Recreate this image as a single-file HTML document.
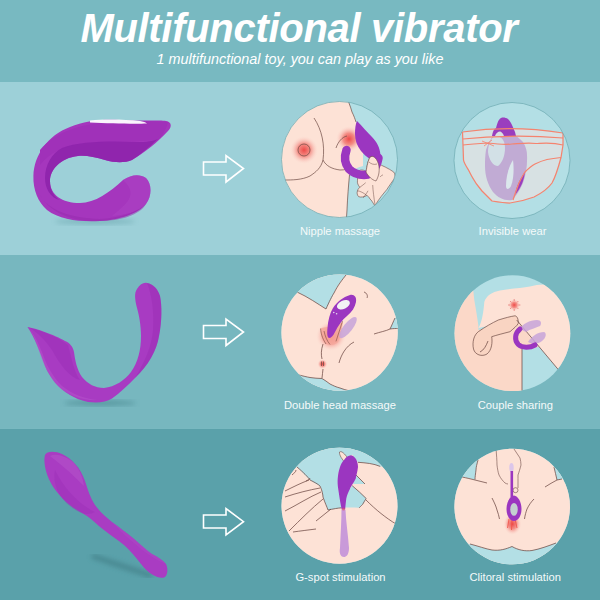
<!DOCTYPE html>
<html><head><meta charset="utf-8">
<style>
html,body{margin:0;padding:0;width:600px;height:600px;overflow:hidden;background:#78b8c0}
body{position:relative;font-family:"Liberation Sans",sans-serif}
.band{position:absolute;left:0;width:600px}
#h{top:0;height:82px;background:#78b9c1}
#b1{top:82px;height:173px;background:#9dd0d8}
#b2{top:255px;height:173px;background:#77b7bf}
#b3{top:428.5px;height:172px;background:#5aa1aa}
.t{position:absolute;left:0;width:600px;text-align:center;color:#fff;white-space:nowrap}
#title{top:5.5px;left:-1px;font:italic bold 40px "Liberation Sans",sans-serif;letter-spacing:-0.3px}
#sub{top:50.7px;font:italic 14.4px "Liberation Sans",sans-serif;}
.lbl{position:absolute;width:200px;text-align:center;color:#f4fafa;font-size:11.2px;white-space:nowrap}
svg{position:absolute;left:0;top:0}
</style></head><body>
<div class="band" id="h"></div>
<div class="band" id="b1"></div>
<div class="band" id="b2"></div>
<div class="band" id="b3"></div>
<div class="t" id="title">Multifunctional vibrator</div>
<div class="t" id="sub">1 multifunctional toy, you can play as you like</div>
<svg width="600" height="600" viewBox="0 0 600 600">
<defs>
  <clipPath id="c1"><circle cx="339.5" cy="159.5" r="58"/></clipPath>
  <clipPath id="c2"><circle cx="512" cy="160.5" r="58"/></clipPath>
  <clipPath id="c3"><circle cx="339.6" cy="332.6" r="58.2"/></clipPath>
  <clipPath id="c4"><circle cx="512.4" cy="333.2" r="57.9"/></clipPath>
  <clipPath id="c5"><circle cx="339.5" cy="505.7" r="58"/></clipPath>
  <clipPath id="c6"><circle cx="512.2" cy="506.5" r="57.8"/></clipPath>
  <radialGradient id="red"><stop offset="0" stop-color="#ee4a48"/><stop offset="0.45" stop-color="#f27f78" stop-opacity="0.85"/><stop offset="1" stop-color="#fbd8d0" stop-opacity="0"/></radialGradient>
  <filter id="blur2"><feGaussianBlur stdDeviation="2.5"/></filter>
  <filter id="blur1"><feGaussianBlur stdDeviation="0.6"/></filter>
</defs>
  <!-- arrows -->
  <g fill="none" stroke="#fff" stroke-width="1.6" stroke-linejoin="miter">
    <path d="M203.5 162H226V155.5L243.5 168.5L226 182V175H203.5Z"/>
    <path d="M203.5 325.5H226V319L243.5 332L226 345.5V338.5H203.5Z"/>
    <path d="M203.5 515H226V508.5L243.5 521.7L226 535V528H203.5Z"/>
  </g>

  <!-- ===== Product 1: C shape ===== -->
  <ellipse cx="95" cy="221.5" rx="40" ry="3" fill="#6aa5ad" opacity="0.6" filter="url(#blur2)"/>
  <path fill="#a536bd" d="M33.4,176 C34,155 48,135 70,127 C85,121 100,119 120,120 C140,121 160,120 166,121 C172,122 172,127 168,131 C158,142 145,152 132,160 C125,163 115,163 105,160 C95,157 85,155 78,156 C60,158 50,170 50,181 C50,195 62,203 80,203 C95,203 110,192 123,180 C132,174 140,174 146,178 C152,184 152,196 146,204 C138,214 118,220 100,221 C80,222 60,220 47,210 C38,202 33,190 33.4,176Z"/>
  <path fill="#a031b9" d="M40,150 C55,132 80,124 110,122 C135,121 160,121 168,122 C166,130 162,136 158,140 C140,142 110,141 85,143 C65,146 50,152 40,165Z"/>
  <path fill="#8c22aa" opacity="0.85" d="M62,148 C80,141 110,141 140,142 C150,142 155,140 158,139 C148,148 140,155 132,160 C125,163 115,163 105,160 C95,157 85,155 78,156 C60,158 50,170 50,181 C50,190 54,197 60,200 C50,198 45,188 45,178 C45,165 52,153 62,148Z"/>
  <path fill="#ffffff" opacity="0.95" d="M90,120.5 C105,119 125,119.5 140,121 C143,121.5 146,122.5 147,123.5 C135,124 110,123.5 90,122.5Z"/>
  <path fill="#b048c6" opacity="0.45" d="M123,180 C132,174 140,174 146,178 C152,184 152,196 146,204 C138,212 125,215 112,216 C125,205 140,195 123,180Z"/>
  <path fill="#962aae" opacity="0.5" d="M40,195 C48,210 70,218 100,219 C120,218 138,212 146,204 C140,215 120,221 100,221 C75,222 52,215 40,195Z"/>

  <!-- ===== Product 2: U shape ===== -->
  <ellipse cx="100" cy="403" rx="36" ry="3" fill="#4f8e96" opacity="0.7" filter="url(#blur2)"/>
  <path fill="#a83bc2" d="M27.5,327 C35,328 55,335 65,341 C70,343 73,347 74,352 C75,360 77,370 82,377 C88,384 95,388 104,388 C115,387 125,380 131,372 C138,362 141,350 141,336 C141,325 139,315 137,308 C135,300 134,293 137,289 C140,284 144,282 147,283 C153,284 158,289 160,296 C162,305 162,322 159,336 C157,350 148,366 135,378 C128,385 120,393 112,398.5 C106,402.6 97,403 88,402 C80,400 75,398 70,395 C58,388 50,378 45,366 C40,352 35,338 27.5,327Z"/>
  <path fill="#9a2cb5" opacity="0.45" d="M30,328 C45,332 60,338 68,345 C72,360 74,372 80,380 C70,378 60,365 52,350 C45,340 38,333 30,328Z"/>
  <path fill="#b95bd0" opacity="0.4" d="M29,328 C34,334 38,342 42,352 C46,364 52,376 62,386 C72,394 85,399 98,400 C84,401 70,396 60,388 C50,378 44,366 40,354 C36,342 33,334 29,328Z"/>
  <path fill="#9428b0" opacity="0.35" d="M147,283 C153,284 158,289 160,296 C162,305 162,322 159,336 C157,350 148,366 135,378 C145,362 152,345 153,330 C154,312 152,295 147,283Z"/>

  <!-- ===== Product 3: spoon ===== -->
  <path d="M92,556 C110,562 135,570 152,576" fill="none" stroke="#3f7c84" stroke-width="5" opacity="0.7" filter="url(#blur2)"/>
  <path fill="#a93cc2" d="M45,455 C47,451 55,451 62,454 C72,459 80,467 85,481 C88,490 90,497 95,505 C100,512 106,517 112,522 C120,528 127,533 133,538 C140,544 146,550 152,554 C158,557 163,560 166,564 C168,568 168,574 165,577 C161,579 157,577 153,575 C148,572 145,569 141,564 C136,558 131,551 124,545 C118,540 110,535 104,530 C96,524 90,517 82,513 C68,505 58,495 52,485 C46,475 43,462 45,455Z"/>
  <path fill="#9a2db6" opacity="0.4" d="M55,470 C65,490 80,505 95,512 C88,516 80,514 70,506 C60,498 52,485 55,470Z"/>
  <path fill="#b658cc" opacity="0.45" d="M50,456 C56,453 66,456 74,463 C80,470 83,478 84,486 C76,478 66,468 50,456Z"/>
  <path fill="#b04ec8" opacity="0.35" d="M112,522 C125,531 140,544 152,554 C158,557 163,560 166,564 C160,562 150,556 140,548 C130,540 120,531 112,522Z"/>

  <!-- ===== circles ===== -->
  <g fill="#b3dfe5">
    <circle cx="339.5" cy="159.5" r="58"/>
    <circle cx="512" cy="160.5" r="58"/>
    <circle cx="339.6" cy="332.6" r="58.2"/>
    <circle cx="512.4" cy="333.2" r="57.9"/>
    <circle cx="339.5" cy="505.7" r="58"/>
    <circle cx="512.2" cy="506.5" r="57.8"/>
  </g>

  <!-- Circle 1: nipple -->
  <g clip-path="url(#c1)">
    <path fill="#fde2d6" d="M270,95 L345,95 C348,100 350,105 352,112 C354,116 355,119 356,122 L358,135 L363,150 L363,166 C356,168 351,170 349.5,175 C348.5,185 347.5,198 347,210 L346,225 L270,225Z"/>
    <circle cx="304" cy="150" r="14" fill="url(#red)"/>
    <circle cx="349" cy="139" r="13" fill="url(#red)"/>
    <g fill="none" stroke="#6d4a44" stroke-width="0.7">
      <circle cx="304" cy="150" r="6"/>
      <path d="M314,118 C322,130 325,145 323,160 C321,168 316,172 310,176 C302,180 292,180 284,180"/>
      <path d="M323,160 C326,166 332,169 340,170 C345,170 348,169 350,168"/>
      <path d="M336,148 C338,142 342,137 347,136"/>
      <path d="M349.5,175 C348.5,185 347.5,198 347,210 L346,225"/>
      <path d="M345,95 C348,100 350,105 352,112 C354,116 355,119 356,122"/>
    </g>
    <path fill="#9b36c0" d="M357,121 C362,126 368,133 372,137 C377,142 380,148 380.5,155 C380.5,159 380,162 378,163.5 C372,161 366,157 361,151 C357,146 355,140 355,134 C355,129 355.5,124 357,121Z"/>
    <path fill="#fde2d6" stroke="#6d4a44" stroke-width="0.6" d="M370.3,157 C373,157 376,158 378.5,164 C382,165.5 388,168 393.7,172 C395,174 395.5,176 394.8,178 C392,182 389,186 386.7,189.7 C383,194 379,199 376.2,203.7 L375,206 C373,203 371.5,200 370,199 C369,197 368,196 366.8,195.5 C364,197 361,197.5 358.7,196.7 C357,195 356.8,193 357.5,190.8 C358,189 359,188 359.8,187.3 C358,185 357,183 357.5,180.3 C357.5,177 358,173 358.7,171 C360,170 361,170 362,170 C364,170 365,171 366,172 C367,166 368,160 370.3,157Z"/>
    <g fill="none" stroke="#6d4a44" stroke-width="0.5">
      <path d="M359.8,187.3 C362,186 364,184 365.7,182.7 M357.5,190.8 C360,191 364,193 366.8,195.5 M363.3,197.8 C365,195 367,193 368,190.8 M372.7,185 C373,191 374,198 375,204.8 M380,177 C381,176 382,175 383,175"/>
    </g>
    <path fill="none" stroke="#9b36c0" stroke-width="8.5" stroke-linecap="round" d="M346.5,150 C344,157 345,164 349,169 C353,173 358,175 364,175 C369,175 373,172 375.5,167 C377,164 378,161 378.5,158"/>
    <path fill="#fde2d6" stroke="#6d4a44" stroke-width="0.6" d="M366,172 C367,166 368,160 370.3,157 C372.5,155.5 376,156.5 378.5,164 C380,170 379,176 376,181 C372,180 368,176 366,172Z"/>
    <path fill="none" stroke="#6d4a44" stroke-width="0.5" d="M369,162 C371,164 374,165 377,164"/>
  </g>

  <!-- Circle 2: invisible wear -->
  <g clip-path="url(#c2)">
    <path fill="#e4e2e2" opacity="0.72" d="M462.5,132 Q512,125 563,133 L563,145 L561,157.5 C559,165 556,176 552,183 C547,190 540,194 534,197 C526,200 518,202 510,203 C504,203 498,202 492,201 C488,197 485,194 482,191 C479,187 476,184 474,180 C472,177 470,173 468.5,170 C466,166 464,163 463.5,160 L463,145Z"/>
    <path fill="#bfa6d3" opacity="0.92" d="M493,136 L516,136 C519,138 521,140 523,142 C526,147 527,151 527,155 C527.5,165 526,175 523,183 C520,190 516,196 512,200 C505,201 498,198 493,192 C488,185 485,176 485,166 C485,158 485.5,153 486,150 C488,144 490,140 493,136Z"/>
    <path fill="#d2e0e6" d="M496,136 C501,136 505,140 505,148 C505,156 502,163 498,166 C493,166 489,160 488,152 C488,144 491,137 496,136Z"/>
    <path fill="#dbe7ec" d="M513,160 C514,168 514,178 511,186 C509,190 506,190 506,186 C506,176 509,166 513,160Z"/>
    <path fill="#9a3ebe" d="M492,136 C493,131 494,129 496,128 C497,124 498,121 499,120 C500,118 502,117.5 503,117.5 C505,117.5 506.5,118 508,119 C510,121 511,123 512,125 C513,127 514,130 515,132 L516,136 L504,136 C503,133 501,131.5 500,131.5 C498,131.5 496,133 495,136Z"/>
    <path fill="#9a3ebe" d="M525,172 C524,180 521,188 515,195 C516,188 519,180 525,172Z"/>
    <g fill="none" stroke="#f5836e" stroke-width="1.25" stroke-linejoin="round">
      <path d="M462.5,132 Q512,125 563,133"/>
      <path d="M463,139 Q512,134 563,138"/>
      <path d="M463,145 C472,144 480,143.5 488,143 C496,144 504,145 512,144 C520,143.5 528,142.5 536,143.5 C545,143 552,142 563,145"/>
      <path d="M462.5,132 L463,145 L463.5,160 C464,163 466,166 468.5,170 C470,173 472,177 474,180 C476,184 479,187 482,191 C485,194 488,197 492,201 C498,202 504,203 510,203 C518,202 526,200 534,197 C540,194 547,190 552,183 C556,176 559,165 561,157.5 L563,145 L563,133"/>
      <path d="M513,200 C515,194 517,188 519,183 C521,179 523,175 525,172 C528,169 531,166 535,164 C539,162 543,160.5 547,159.5 C552,158.5 556,158 561,157.5"/>
      <path d="M482,141 L494,146 M492,140 L484,146" stroke-width="0.8"/>
    </g>
  </g>

  <!-- Circle 3: double head -->
  <g clip-path="url(#c3)">
    <rect x="270" y="270" width="140" height="130" fill="#fde2d6"/>
    <path fill="#b3dfe5" d="M270,260 L350,260 L346,275 C340,282 336,288 334,293 C331,300 328,305 326,309 C318,304 308,297 297,292 L270,290Z"/>
    <path fill="#b3dfe5" d="M270,372 L299,375 C303,376 307,377 310,377.5 C314,378 318,378.5 322,378.5 C325,380 327,382 330,384 C333,385.5 336,387 340,388 C343,389 345.5,390 348,390.5 L348,400 L270,400Z"/>
    <path fill="#b3dfe5" d="M390,329 L395,318 L410,310 L410,335 L398,328.5Z"/>
    <ellipse cx="331" cy="336" rx="15" ry="15" fill="url(#red)"/>
    <path fill="#f4a89c" opacity="0.85" d="M321,328 C320,334 322,340 326,344 C330,346 335,345 338,342 C340,336 342,330 343,322 C337,325 330,327 321,328Z"/>
    <path fill="none" stroke="#7a4a40" stroke-width="0.6" d="M320.5,328.5 C321,333 322,338 326,344 M342.5,321 C341,326 339,332 336,341.4 M324,331 C325,336 327,341 330,344.5"/>
    <circle cx="322.5" cy="364" r="5" fill="url(#red)"/>
    <g fill="none" stroke="#6d4a44" stroke-width="0.75">
      <path d="M297,292 C308,297 318,304 326,309"/>
      <path d="M326,309 C329,302 332,296 334,293 C338,285 342,280 346,275"/>
      <path d="M299,375 C303,376 307,377 310,377.5 C314,378 318,378.5 322,378.5 C325,380 327,382 330,384 C333,385.5 336,387 340,388 C343,389 345.5,390 348,390.5"/>
      <path d="M339,363 C341,355 346,346 354,342"/>
      <path d="M374,334 C380,332 386,331 390,329 C393,328.5 396,328.5 398,328.5 M390,329 C392,325 393.5,321 395,318"/>
      <path d="M323,344 C321,350 321,355 322,359 M323,369 C323,372 322,375 322,378"/>
      <path d="M364,292 C367,293 368,296 367,298"/>
      <path d="M321.5,361.5 L321.5,366 M323.5,361.5 L323.5,366"/>
    </g>
    <ellipse cx="348" cy="327.6" rx="4.5" ry="13" fill="#c7a3d9" opacity="0.85" transform="rotate(38 348 327.6)"/>
    <path fill="#9b36c0" d="M350,295 C354,294 357,297 356,302 C355,307 352,312 347,316 C342,320 338,326 335,332 C333,336 331,338 329,338 C327,337 327,333 327.5,328 C328,320 330,313 333,308 C337,302 343,297 350,295Z"/>
    <ellipse cx="343.4" cy="304.7" rx="6.9" ry="4.1" fill="#f2f2f4" transform="rotate(-25 343.4 304.7)"/>
    <circle cx="333.8" cy="312.5" r="0.8" fill="#e8d8f0"/>
    <circle cx="336.6" cy="313.7" r="0.8" fill="#e8d8f0"/>
  </g>

  <!-- Circle 4: couple -->
  <g clip-path="url(#c4)">
    <path fill="#fbd8c8" d="M440,270 L472,270 L473.3,290.8 L474.3,300 L476.5,313 L478.3,325 L478.5,330 L517,319 L539,347 L522,349 L522,400 L440,400Z"/>
    <path fill="#fde2d6" d="M478.5,328 C482,322 483.5,312 484.3,302 C486,296 492,292 500,290.5 C510,288.5 522,288 530,286.5 C537,284.5 545,283.5 552,285.5 C560,288 568,292 575,298 L600,300 L600,400 L562,374 L516.7,320 Z"/>
    <path fill="#f9d4c2" stroke="#6d4a44" stroke-width="0.7" d="M478.3,331.7 C485,327 492,323 498.3,320 C505,318 510,316.5 515,315.8 C517,316 518.5,319 518.3,323.3 C517,326 514,328 510,331.7 C503,333.5 497,335 491.7,336.7 C492.5,342 492,350 487,354 C482,357 475,355 473.5,349 C472,342 474,335 478.3,331.7Z"/>
    <g fill="none" stroke="#6d4a44" stroke-width="0.75">
      
      
      <path d="M516.7,320 L562,374"/>
      <path d="M522,349 L522,395"/>
      <path d="M488,341 C486,346 484,350 480,352"/>
    </g>
    <circle cx="514.2" cy="305" r="6" fill="url(#red)"/>
    <g stroke="#e06060" stroke-width="0.6"><path d="M514.2,299 V301 M514.2,309 V311 M508,305 H510 M518.4,305 H520.4 M510,301 L511.3,302.3 M518.4,301 L517.1,302.3 M510,309 L511.3,307.7 M518.4,309 L517.1,307.7"/></g>
    <path fill="#c7a3d9" opacity="0.85" d="M520,329 C522,324 530,320 537,320 C541,320 542,323 540,326 C536,328 530,329 526,332 Z"/>
    <path fill="#c7a3d9" opacity="0.85" d="M528,342 C532,336 538,332 544,332 C547,333 546,338 542,341 C538,344 533,345 528,342Z"/>
    <path fill="none" stroke="#9b36c0" stroke-width="5" stroke-linecap="round" d="M520,329 C515,333 514,340 518.3,344.5 C522,348 530,348 535,345"/>
  </g>

  <!-- Circle 5: g-spot -->
  <g clip-path="url(#c5)">
    <rect x="270" y="440" width="140" height="140" fill="#fde2d6"/>
    <path fill="#b3dfe5" d="M270,440 L352,440 L352,455 C348,457 345,459 344,461 C340,466 338,472 338,480 C338,490 340,496 341,500 L349,489 L352.2,485.7 C357,490 362,494 366.2,498.5 C365,501 364,503 362.7,504.3 L359.2,507.8 C353,507.5 347,507.5 341.7,507.8 C337,508.5 332,509.3 328,510 C326,505 324,500 323,497 C322,490 321,487 320,486 C316,484 313,482 310,480 C305,475 300,470 297,467 L270,462Z"/>
    <path fill="#b3dfe5" d="M348,440 L410,440 L410,466 L380.2,466.4 C377,465 373,464 369.7,463.5 C366,463 362,462.5 358,462.3 C355,458 352,454 348,450Z"/>
    <path fill="#fde2d6" stroke="#6d4a44" stroke-width="0.6" d="M339.5,452 C341.5,450.5 345,454 347.5,458 L345.5,463 C342.5,460 339,455 339.5,452Z"/>
    <path fill="#b3dfe5" d="M356,475 L365,484 L353,484Z"/>
    <g fill="none" stroke="#6d4a44" stroke-width="0.75">
      <path d="M297,467 C303,472 308,477 310,480 C314,482 318,484 320,486 C322,490 323,495 323,497 C325,503 327,507 328,510"/>
      <path d="M328,510 C333,509 338,508 341.7,507.8 M359.2,507.8 C361,506 362,505 362.7,504.3 C364,502 365,500 366.2,498.5 C362,494 357,490 352.2,485.7"/>
      <path d="M358,462.3 C362,462.5 366,463 369.7,463.5 C373,464 377,465 380.2,466.4"/>
      <path d="M356,475 L365,484"/>
      <path d="M285,491 C293,487 301,483 309,480"/>
      <path d="M285,497 C297,493 309,490 320,488"/>
      <path d="M285,511 C297,505 309,497 321,492"/>
      <path d="M289,531 C300,520 312,508 323,499"/>
      <path d="M293,532 C300,531 308,530 316,529"/>
      <path d="M316,521 C321,517 326,513 331,509"/>
      <path d="M292,475 C294,473 296,472 296,470 M306,481 C308,480 310,479 310,478"/>
      <path d="M366,500 C376,510 386,518 396,524"/>
    </g>
    <path fill="#c99ad9" d="M341.5,508 C343,508 345,508 345.5,510 C346,522 348,534 349,548 C349,555 346,557 344,557 C341,557 339,554 340,548 C340.5,535 341.5,522 341.5,508Z"/>
    <path fill="#9b36c0" d="M351,455.3 C355,456 358,461 358,467 C357.5,472 356,476 355.7,478.7 C353,484 351,486 349.8,489.2 C348,493 347,495 346.3,498.5 C345.8,502 345.5,506 345.2,509 L341.7,509 C340.5,504 339.5,498 338.8,492.7 C338,488 337.5,484 337.6,481 C338,475 338.5,472 339.3,469.3 C340.5,465 342,462 344,460 C346,457 348.5,455.5 351,455.3Z"/>
    <circle cx="343.5" cy="509" r="1.5" fill="#e05070" opacity="0.7"/>
  </g>

  <!-- Circle 6: clitoral -->
  <g clip-path="url(#c6)">
    <rect x="440" y="440" width="150" height="140" fill="#fde2d6"/>
    <path fill="#b3dfe5" d="M440,440 L480,440 L478,460 C477,464 476,467 476,470 C475.5,474 475,477 475,479.5 C470,478.5 466,477.5 462,477 L440,478Z"/>
    <path fill="#b3dfe5" d="M552,440 L590,440 L590,479 L562,479 L557,480 C556,476 555,471 554,467Z"/>
    <path fill="#b3dfe5" d="M440,540 C450,542 460,543 470,544 C478,546 486,549 492,550 C500,551 506,549 512,546.5 C518,550 525,551.5 532,550.5 C540,549 548,546 556,543 C565,540 575,537 590,534 L590,580 L440,580Z"/>
    <g fill="none" stroke="#6d4a44" stroke-width="0.75">
      <path d="M462,477 C467,478 471,479 475,480 C479,481 483,482 487,483 M478,460 C477,464 476,467 476,470 C475.5,474 475,477 475,479.5"/>
      <path d="M562,479 L557,480 C553,482 549,484.5 545,487 M554,467 C555,471 556,476 557,480"/>
      <path d="M470,544 C478,546 486,549 492,550 C500,551 506,549 512,546.5 C518,550 525,551.5 532,550.5 C540,549 548,546 556,543"/>
      <path d="M492,498 C494,502 496,506 497,510 C498,513 499,516 499.5,519"/>
      <path d="M534,499 C531,502 529,505 527,509 C526,512 525,515 524.5,519"/>
    </g>
    <ellipse cx="512.5" cy="524" rx="9" ry="11" fill="url(#red)"/>
    <g stroke="#f05048" stroke-width="1" opacity="0.8"><path d="M509,519 L507.5,528 M512,520 L511.5,530 M515,519 L517,528"/></g>
    <g fill="none" stroke="#6d4a44" stroke-width="0.6">
      <path d="M496,448 C496.5,455 497,461 497,465 C497.5,469 498,472 499,475 C501,479 503,481 505,483 C506,483.5 507,484 508,484"/>
      <path d="M514,449 C516,452 518,455 520,458 C520.5,460 521,463 521,465 C520,469 519,472 518,475 C518,480 518,484 518,488"/>
      <circle cx="515.5" cy="490.2" r="2.5"/>
    </g>
    <ellipse cx="511.5" cy="467.5" rx="2.2" ry="4.5" fill="#dcc6ea"/>
    <rect x="510.5" y="471" width="2.6" height="26" fill="#9b36c0"/>
    <path fill="#9b36c0" d="M514,495.5 C518,496 521.5,502 521.5,509 C521.5,516 518,521 514,521 C510,521 506.5,516 506.5,509 C506.5,502 510,496 514,495.5Z"/>
    <ellipse cx="514" cy="509.4" rx="3.75" ry="6.4" fill="#c4d0d0"/>
  </g>

  <g fill="none" stroke="#6aa7af" stroke-width="0.7">
    <circle cx="339.5" cy="159.5" r="58"/>
    <circle cx="512" cy="160.5" r="58"/>
  </g>
</svg>
<div class="lbl" style="left:240px;top:224.5px">Nipple massage</div>
<div class="lbl" style="left:412.5px;top:225.2px">Invisible wear</div>
<div class="lbl" style="left:240px;top:398.5px">Double head massage</div>
<div class="lbl" style="left:415.3px;top:398.5px">Couple sharing</div>
<div class="lbl" style="left:240.5px;top:571px">G-spot stimulation</div>
<div class="lbl" style="left:415.2px;top:571.2px">Clitoral stimulation</div>
</body></html>
